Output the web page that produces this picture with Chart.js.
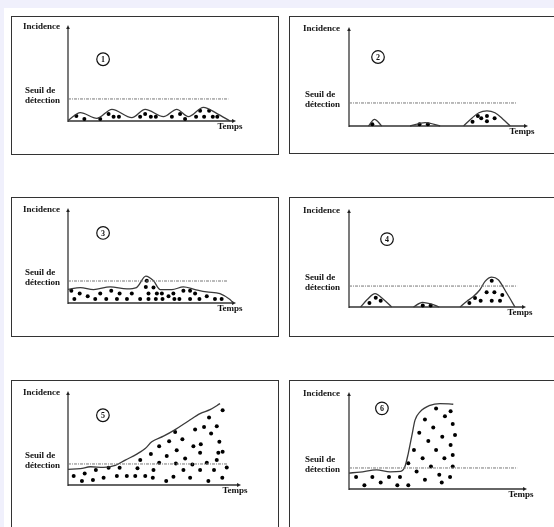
<!DOCTYPE html>
<html lang="fr">
<head>
<meta charset="UTF-8" />
<script src="https://cdn.jsdelivr.net/npm/chart.js@4.4.1/dist/chart.umd.min.js"></script>
<style>
  html, body { margin: 0; padding: 0; width: 554px; height: 527px; overflow: hidden; background: #f0f0fc; }
  #sheet { position: absolute; left: 4px; top: 8px; width: 560px; height: 530px; background: #fff; }
  .panel { position: absolute; border: 1px solid #333; background: #fff; }
  .panel canvas { display: block; }
</style>
</head>
<body>
<div id="sheet"></div>
<div class="panel" style="left:11px;top:16px;width:266px;height:137px"><canvas id="c1" width="266" height="137"></canvas></div>
<div class="panel" style="left:289px;top:16px;width:273px;height:136px"><canvas id="c2" width="273" height="136"></canvas></div>
<div class="panel" style="left:11px;top:197px;width:266px;height:138px"><canvas id="c3" width="266" height="138"></canvas></div>
<div class="panel" style="left:289px;top:197px;width:273px;height:138px"><canvas id="c4" width="273" height="138"></canvas></div>
<div class="panel" style="left:11px;top:380px;width:266px;height:158px"><canvas id="c5" width="266" height="158"></canvas></div>
<div class="panel" style="left:289px;top:380px;width:273px;height:158px"><canvas id="c6" width="273" height="158"></canvas></div>

<script>
  // texts
  const yTitle = "Incidence";
  const xTitle = "Temps";
  const seuilLines = ["Seuil de", "détection"];
  const tags = ["1", "2", "3", "4", "5", "6"];

  // detection threshold per panel (same units as incidence, axis = 0..100)
  const thresholds = [23.2, 23.5, 23.4, 21.6, 22.6, 21.9];
  const thresholdEnds = [96, 94.4, 95.8, 95.5, 93, 95];

  // incidence curves [temps, incidence]; null = no curve
  const curve1 = [[0, 0.5], [7.4, 8.8], [17.3, 2.8], [26.3, 12.3], [38.2, 3.5], [46.2, 12.3], [57.2, 4.6],
    [65.1, 12.3], [72.1, 4.6], [81.1, 14.4], [89, 8], [97, 0]];
  const curve2 = [[10.9, 0], [14.3, 6.8], [18.4, 0], [26, null], [34.3, 0], [42.8, 3.4], [51.2, 0], [58, null],
    [64.4, 0], [69, 8], [73, 13.5], [77.5, 15.4], [82, 13.5], [86.5, 7], [90.6, 0]];
  const curve3 = [[0, 14.6], [7.4, 16.4], [15.3, 14.3], [25.3, 17.1], [35.3, 15], [41, 16.4], [46.6, 28.6],
    [51.2, 23.6], [55.2, 14.3], [62.2, 14.3], [69.1, 17.1], [76.1, 14.3], [83.1, 11.8], [91, 10], [97, 3.6], [99, 0]];
  const curve4 = [[6.6, 0], [10.5, 8], [14.8, 13.7], [19.5, 8], [24.2, 0], [30, null], [36.6, 0], [41.7, 4.8],
    [46.5, 3.2], [51.3, 0], [57, null], [63.1, 0], [67, 6], [70.3, 10.3], [74.4, 17.8], [77.3, 26.4], [81.1, 30.8],
    [84.8, 28.1], [89.6, 14.4], [94.3, 0]];
  const curve5 = [[0, 16.8], [7.2, 17.5], [13, 19.6], [20.7, 18.9], [27.5, 21.1], [33.3, 26.8], [40, 33.2],
    [44.9, 39.3], [48.7, 46.4], [55.5, 52.5], [62.3, 59.6], [70, 68.9], [76.8, 76.8], [82.6, 81.1], [88.4, 87.5]];
  const curve6 = [[0, 16.6], [6.2, 17.6], [15.6, 20], [23.2, 17.9], [29.2, 18.3], [31.6, 23.4], [33.5, 37.2],
    [35.4, 54.5], [37.3, 71.7], [40.1, 80.3], [45.8, 87.2], [51.4, 89], [58.9, 88.3]];

  // dots (cases) [temps, incidence]
  const dots1 = [[5, 5.3], [9.8, 2.1], [19.3, 2.1], [24.3, 7.4], [27.3, 4.6], [30.5, 4.6], [43.2, 4.6], [46.2, 7.4],
    [49.6, 4.6], [52.6, 4.6], [62.2, 4.6], [67.1, 7.4], [70.1, 2.1], [76.7, 4.6], [79.1, 10.9], [81.5, 4.6],
    [84.5, 10.9], [86.7, 4.6], [89.4, 4.6]];
  const dots2 = [[13.1, 1.7], [39.6, 1.7], [44.3, 1.7], [69.4, 4.4], [72.4, 10.2], [74.3, 7.8], [77.5, 10.2],
    [77.5, 4.8], [81.8, 7.8]];
  const dots3 = [[2, 12.9], [3.8, 4.3], [7, 10], [11.8, 7.1], [16.3, 4.3], [19.3, 10], [22.9, 4.3], [25.9, 12.9],
    [29.3, 4.3], [30.9, 10], [35.3, 4.3], [38.2, 10], [43.2, 4.3], [47.2, 23.6], [46.6, 17.1], [48.2, 10],
    [51.2, 16.4], [48.2, 4.3], [52.6, 4.3], [53.2, 10], [56.2, 10], [56.6, 4.3], [60.2, 7.1], [63.1, 10],
    [63.7, 4.3], [66.7, 4.3], [69.1, 12.9], [73.1, 12.9], [73.1, 4.3], [76.1, 10], [78.7, 4.3], [83.1, 7.1],
    [88, 4.3], [92, 4.3]];
  const dots4 = [[11.6, 4.1], [15.2, 9.6], [18, 6.5], [41.9, 1.5], [46.4, 1.5], [68.4, 4.1], [71.6, 9.2],
    [74.8, 6.5], [78.2, 15.1], [82.6, 15.1], [87.1, 12.3], [81.1, 27.1], [81.1, 6.5], [85.8, 6.5]];
  const dots5 = [[3.3, 9.6], [8.1, 4.3], [9.7, 12.5], [14.5, 5.4], [16.2, 16.1], [20.7, 7.9], [23.6, 18.6],
    [28.4, 9.6], [30, 18.6], [34.2, 9.6], [39.1, 9.6], [40.4, 17.9], [42, 26.8], [44.9, 9.6], [49.3, 7.9],
    [49.7, 16.1], [48.2, 33.2], [53, 41.8], [53, 23.9], [57.1, 4.3], [57.4, 31.1], [58.8, 47.1], [61.3, 8.9],
    [62.3, 57.1], [63.2, 37.5], [62.7, 23.2], [66.5, 49.3], [67.1, 16.1], [68.1, 28.6], [71, 7.9], [72.3, 22.1],
    [73.9, 59.6], [72.9, 41.8], [76.8, 34.6], [76.8, 16.1], [77.2, 43.9], [79.1, 62.5], [80.7, 23.9], [82, 72.5],
    [83.2, 55.4], [84.9, 16.1], [86.5, 63.2], [87.4, 34.6], [88, 46.4], [86.5, 26.8], [89.7, 7.9], [89.9, 80.4],
    [89.9, 35.7], [92.3, 18.9], [81.6, 4.3]];
  const dots6 = [[4, 12.4], [8.7, 3.8], [13.2, 12.4], [17.9, 6.9], [22.6, 12.4], [27.3, 3.8], [28.8, 12.4],
    [33.5, 3.8], [33.5, 26.9], [38.2, 18.3], [36.7, 40.7], [39.7, 58.6], [41.6, 32.1], [42.9, 72.4], [42.9, 9.7],
    [44.8, 50], [46.3, 23.4], [47.6, 64.1], [49.2, 83.8], [49.2, 40.7], [51, 14.8], [52.4, 6.9], [52.7, 54.5],
    [53.9, 32.1], [54.2, 75.9], [57.1, 12.4], [57.4, 81], [57.4, 45.9], [58.6, 23.4], [58.6, 35.5], [58.6, 67.6],
    [59.9, 56.2]];

  const curves = [curve1, curve2, curve3, curve4, curve5, curve6];
  const dots = [dots1, dots2, dots3, dots4, dots5, dots6];

  // layout of each panel: plot padding inside the frame, text column, tag position (data units)
  const layouts = [
    { pad: { left: 56, top: 9, right: 43, bottom: 33 }, textX: 11, tag: [21, 65] },
    { pad: { left: 59, top: 11, right: 36, bottom: 27 }, textX: 13, tag: [16.3, 70.4] },
    { pad: { left: 56, top: 11, right: 43, bottom: 33 }, textX: 11, tag: [21, 74.5] },
    { pad: { left: 59, top: 12, right: 38, bottom: 29 }, textX: 13, tag: [21.6, 70] },
    { pad: { left: 56, top: 11, right: 38, bottom: 54 }, textX: 11, tag: [20.3, 75] },
    { pad: { left: 59, top: 12, right: 37, bottom: 50 }, textX: 13, tag: [18.6, 84] },
  ];

  const toXY = (arr) => arr.map(([x, y]) => ({ x: x, y: y }));

  // axes with arrows, labels and the circled panel number
  const schema = {
    id: "schema",
    beforeDatasetsDraw(chart, args, o) {
      const { ctx } = chart;
      const { x, y } = chart.scales;
      const x0 = x.getPixelForValue(0), y0 = y.getPixelForValue(0);
      const xt = x.getPixelForValue(100), yt = y.getPixelForValue(100);
      ctx.save();
      // time axis
      ctx.strokeStyle = "#666";
      ctx.lineWidth = 2;
      ctx.beginPath();
      ctx.moveTo(x0, y0);
      ctx.lineTo(xt - 2, y0);
      ctx.stroke();
      ctx.fillStyle = "#222";
      ctx.beginPath();
      ctx.moveTo(xt + 1, y0);
      ctx.lineTo(xt - 3, y0 - 2);
      ctx.lineTo(xt - 3, y0 + 2);
      ctx.closePath();
      ctx.fill();
      // incidence axis
      ctx.strokeStyle = "#222";
      ctx.lineWidth = 1.2;
      ctx.beginPath();
      ctx.moveTo(x0, y0 + 1);
      ctx.lineTo(x0, yt + 2);
      ctx.stroke();
      ctx.beginPath();
      ctx.moveTo(x0, yt - 1);
      ctx.lineTo(x0 - 1.8, yt + 3);
      ctx.lineTo(x0 + 1.8, yt + 3);
      ctx.closePath();
      ctx.fill();
      ctx.restore();
    },
    afterDatasetsDraw(chart, args, o) {
      const { ctx } = chart;
      const { x, y } = chart.scales;
      const y0 = y.getPixelForValue(0);
      const xt = x.getPixelForValue(100), yt = y.getPixelForValue(100);
      const ys = y.getPixelForValue(o.threshold);
      ctx.save();
      ctx.fillStyle = "#111";
      ctx.font = 'bold 9px "Liberation Serif"';
      ctx.textBaseline = "middle";
      ctx.textAlign = "left";
      ctx.fillText(yTitle, o.textX, yt + 1);
      ctx.fillText(seuilLines[0], o.textX + 2, ys - 8);
      ctx.fillText(seuilLines[1], o.textX + 2, ys + 2);
      ctx.textAlign = "center";
      ctx.fillText(xTitle, xt - 5, y0 + 6);
      // circled number
      const cx = x.getPixelForValue(o.tag[0]), cy = y.getPixelForValue(o.tag[1]);
      ctx.strokeStyle = "#111";
      ctx.lineWidth = 1.2;
      ctx.beginPath();
      ctx.arc(cx, cy, 6.3, 0, Math.PI * 2);
      ctx.stroke();
      ctx.font = 'bold 8px "Liberation Serif"';
      ctx.fillText(o.label, cx, cy + 0.5);
      ctx.restore();
    },
  };

  for (let i = 0; i < 6; i++) {
    const lay = layouts[i];
    new Chart(document.getElementById("c" + (i + 1)), {
      type: "scatter",
      data: {
        datasets: [
          {
            // threshold
            data: toXY([[0, thresholds[i]], [thresholdEnds[i], thresholds[i]]]),
            showLine: true,
            borderColor: "#777",
            borderWidth: 1,
            borderDash: [3, 1, 1, 1],
            pointRadius: 0,
            clip: false,
          },
          {
            // incidence curve
            data: toXY(curves[i]),
            showLine: true,
            spanGaps: false,
            cubicInterpolationMode: "monotone",
            borderColor: "#3a3a3a",
            borderWidth: 1.3,
            pointRadius: 0,
            clip: false,
          },
          {
            // cases
            data: toXY(dots[i]),
            backgroundColor: "#000",
            borderWidth: 0,
            pointRadius: 2,
            clip: false,
          },
        ],
      },
      options: {
        responsive: false,
        animation: false,
        events: [],
        layout: { padding: lay.pad },
        plugins: {
          legend: { display: false },
          tooltip: { enabled: false },
          schema: { threshold: thresholds[i], textX: lay.textX, tag: lay.tag, label: tags[i] },
        },
        scales: {
          x: { type: "linear", display: false, min: 0, max: 100 },
          y: { display: false, min: 0, max: 100 },
        },
      },
      plugins: [schema],
    });
  }
</script>
</body>
</html>
